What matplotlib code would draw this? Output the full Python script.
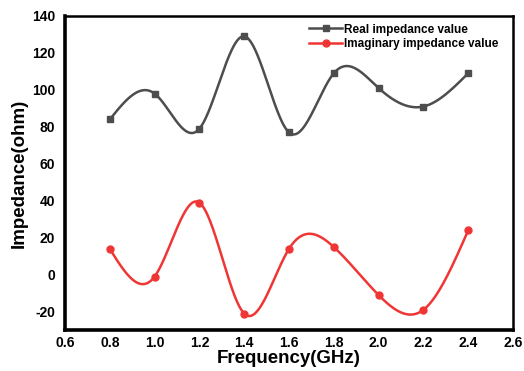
import numpy as np
import matplotlib
matplotlib.use("Agg")
import matplotlib.pyplot as plt

freq = [0.8, 1.0, 1.2, 1.4, 1.6, 1.8, 2.0, 2.2, 2.4]
real_z = [84, 98, 79, 129, 77, 109, 101, 91, 109]
imag_z = [14, -1, 39, -21, 14, 15, -11, -19, 24]
xticks = [0.6, 0.8, 1.0, 1.2, 1.4, 1.6, 1.8, 2.0, 2.2, 2.4, 2.6]
yticks = [-20, 0, 20, 40, 60, 80, 100, 120, 140]


def natural_spline(x, y, n=400):
    # natural cubic spline through the points (smooth connecting line)
    x = np.asarray(x, float)
    y = np.asarray(y, float)
    k = len(x)
    h = np.diff(x)
    A = np.zeros((k, k))
    b = np.zeros(k)
    A[0, 0] = 1
    A[-1, -1] = 1
    for i in range(1, k - 1):
        A[i, i - 1] = h[i - 1]
        A[i, i] = 2 * (h[i - 1] + h[i])
        A[i, i + 1] = h[i]
        b[i] = 6 * ((y[i + 1] - y[i]) / h[i] - (y[i] - y[i - 1]) / h[i - 1])
    M = np.linalg.solve(A, b)
    xs = np.linspace(x[0], x[-1], n)
    idx = np.clip(np.searchsorted(x, xs) - 1, 0, k - 2)
    x0, x1 = x[idx], x[idx + 1]
    hh = x1 - x0
    t0 = x1 - xs
    t1 = xs - x0
    ys = (M[idx] * t0**3 + M[idx + 1] * t1**3) / (6 * hh) \
        + (y[idx] / hh - M[idx] * hh / 6) * t0 \
        + (y[idx + 1] / hh - M[idx + 1] * hh / 6) * t1
    return xs, ys


plt.rcParams['font.family'] = 'Liberation Sans'

fig = plt.figure(figsize=(5.24, 3.71), dpi=100)
ax = fig.add_axes([0.124, 0.11, 0.855, 0.847])

c_real = '#4d4d4d'
c_imag = '#f03535'

xs, ys = natural_spline(freq, real_z)
ax.plot(xs, ys, color=c_real, lw=1.8)
ax.plot(freq, real_z, 's', color=c_real, ms=5, ls='none')
xs, ys = natural_spline(freq, imag_z)
ax.plot(xs, ys, color=c_imag, lw=1.8)
ax.plot(freq, imag_z, 'o', color=c_imag, ms=5, ls='none')

# legend handles
ax.plot([], [], '-s', color=c_real, lw=1.8, ms=5, label='Real impedance value')
ax.plot([], [], '-o', color=c_imag, lw=1.8, ms=5, label='Imaginary impedance value')
leg = ax.legend(loc='upper right', bbox_to_anchor=(0.985, 1.0), frameon=False,
                prop={'size': 8.5, 'weight': 'bold'}, handlelength=2.8,
                handletextpad=0.15, labelspacing=0.2, borderaxespad=0.25)

ax.set_xlim(0.6, 2.6)
ax.set_ylim(-30, 140)
ax.set_xticks(xticks)
ax.set_xticklabels(["%.1f" % v for v in xticks], fontweight='bold')
ax.set_yticks(yticks)
ax.set_yticklabels([str(v) for v in yticks], fontweight='bold')
ax.tick_params(length=0, labelsize=10)
ax.tick_params(axis='x', pad=4)
ax.tick_params(axis='y', pad=7)

ax.set_xlabel("Frequency(GHz)", fontsize=13.5, fontweight='bold', labelpad=0)
ax.set_ylabel("Impedance(ohm)", fontsize=13.5, fontweight='bold', labelpad=3)

for s in ['left', 'bottom']:
    ax.spines[s].set_linewidth(2.6)
for s in ['top', 'right']:
    ax.spines[s].set_linewidth(1.8)

fig.savefig("out.png", dpi=100)
